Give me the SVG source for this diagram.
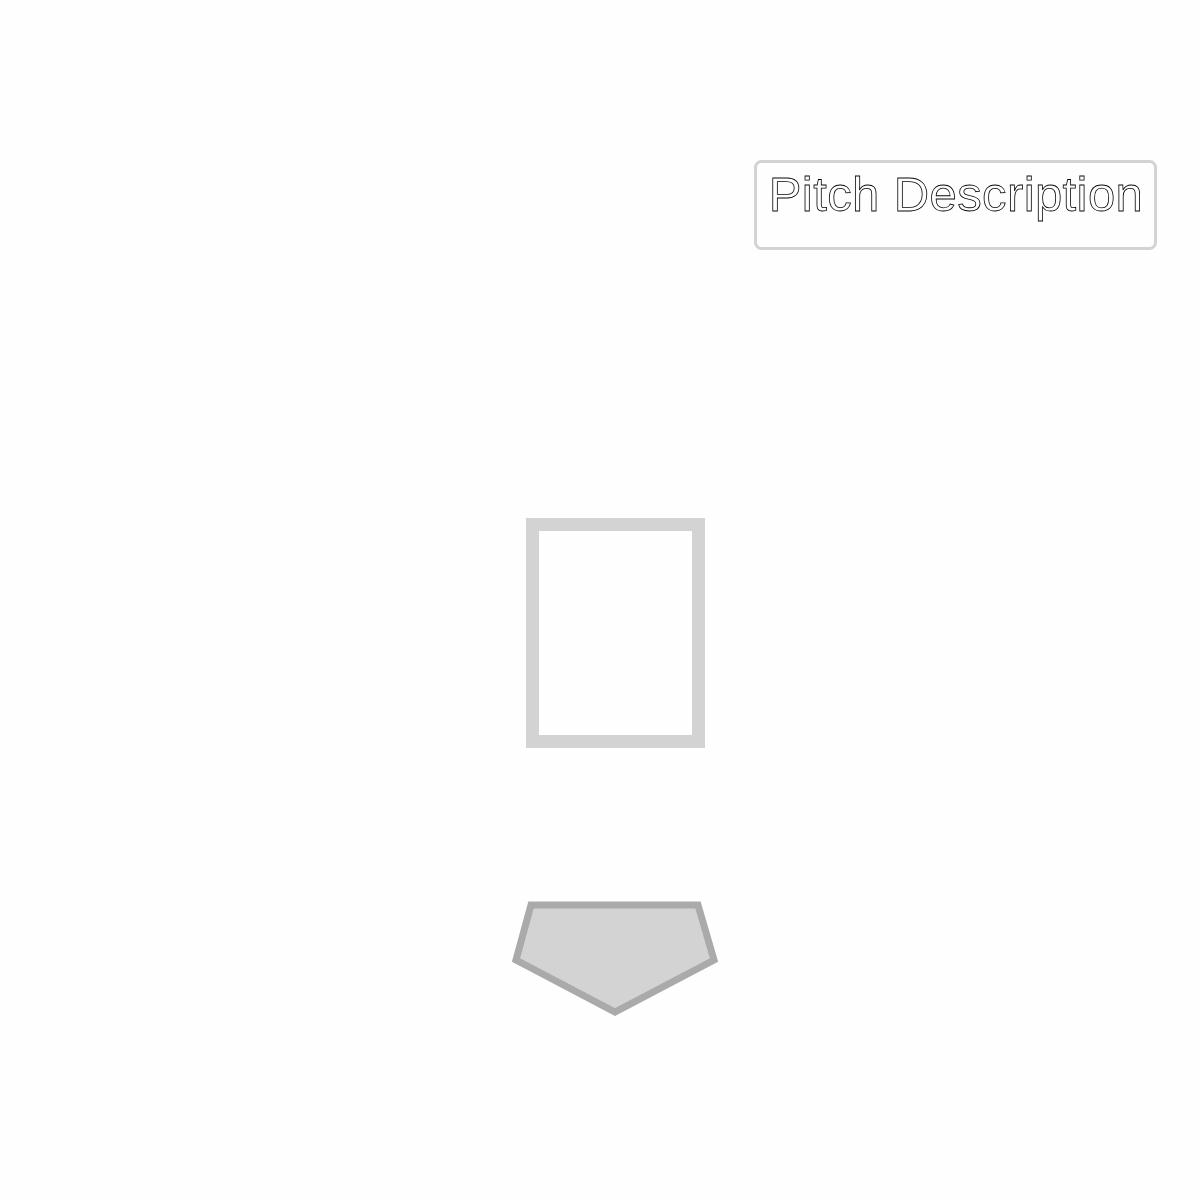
<svg xmlns="http://www.w3.org/2000/svg" width="1200" height="1200" viewBox="0 0 1200 1200">
<style>
.zone{fill:none;stroke:#d3d3d3;stroke-width:13}
.plate{fill:#d3d3d3;stroke:#aaaaaa;stroke-width:7;stroke-linejoin:miter}
.legend{fill:none;stroke:#d3d3d3;stroke-width:3}
.ltext{font-family:"Liberation Sans",Arial,sans-serif;font-size:49px;letter-spacing:0.4px;fill:#ffffff;stroke:#000000;stroke-width:0.8}
</style>
<rect width="1200" height="1200" fill="#fefefe"/>
<g id="strike-zone"><rect class="zone" x="532.5" y="524.5" width="166" height="217"/></g>
<g id="home-plate"><polygon class="plate" points="531,905 698,905 714,960 615,1012 516,960"/></g>
<g id="legend">
<rect class="legend" x="755.5" y="161.5" width="400" height="87" rx="6"/>
<text class="ltext" x="956" y="211" text-anchor="middle">Pitch Description</text>
</g>
<g id="connectors"/>
</svg>
